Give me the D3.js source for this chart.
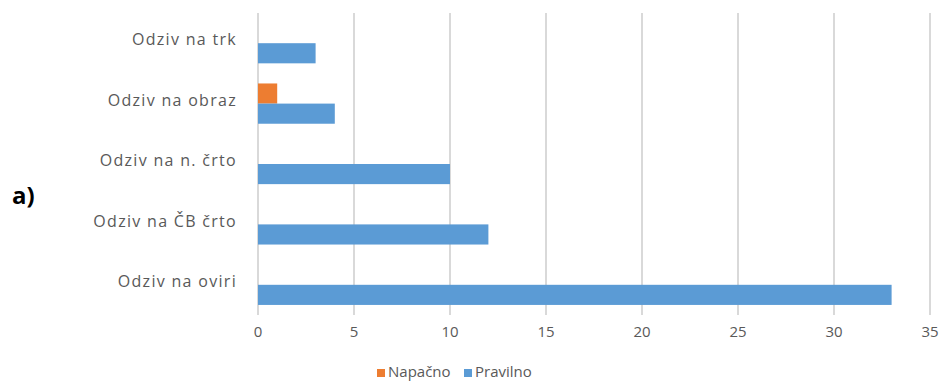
<!DOCTYPE html>
<html>
<head>
<meta charset="utf-8">
<script src="https://cdn.jsdelivr.net/npm/d3@7"></script>
<style>
  body { margin: 0; background: #fff; }
  text { font-family: "Open Sans", sans-serif; }
</style>
</head>
<body>
<svg id="chart" width="944" height="383"></svg>
<script>
const categories = ['Odziv na trk', 'Odziv na obraz', 'Odziv na n. črto', 'Odziv na ČB črto', 'Odziv na oviri'];
const seriesNames = ['Napačno', 'Pravilno'];
const napacno = [0, 1, 0, 0, 0];
const pravilno = [3, 4, 10, 12, 33];
const xTicks = [0, 5, 10, 15, 20, 25, 30, 35];
const colors = ['#ED7D31', '#5B9BD5'];

const LEFT = 258, RIGHT = 930, TOP = 13, BOTTOM = 315;
const svg = d3.select('#chart');

const x = d3.scaleLinear().domain([0, 35]).range([LEFT, RIGHT]);
const y = d3.scaleBand().domain(categories).range([TOP, BOTTOM]).paddingInner(0).paddingOuter(0);
const inner = d3.scaleBand().domain(seriesNames).range([0, y.bandwidth()]).paddingInner(0).paddingOuter(0.5);

// grid
svg.append('g')
  .selectAll('line')
  .data(xTicks)
  .enter()
  .append('line')
  .attr('x1', d => x(d)).attr('x2', d => x(d))
  .attr('y1', TOP).attr('y2', BOTTOM)
  .attr('stroke', '#d9d9d9')
  .attr('stroke-width', 2);

// bars
const rows = categories.map((c, i) => ({ cat: c, vals: [napacno[i], pravilno[i]] }));
const groups = svg.append('g')
  .selectAll('g')
  .data(rows)
  .enter()
  .append('g')
  .attr('transform', d => 'translate(0,' + y(d.cat) + ')');

groups.selectAll('rect')
  .data(d => d.vals.map((v, j) => ({ v: v, s: seriesNames[j], j: j })))
  .enter()
  .append('rect')
  .attr('x', x(0))
  .attr('y', d => inner(d.s))
  .attr('width', d => x(d.v) - x(0))
  .attr('height', inner.bandwidth())
  .attr('fill', d => colors[d.j]);

// category labels
svg.append('g')
  .selectAll('text')
  .data(categories)
  .enter()
  .append('text')
  .attr('x', 237)
  .attr('y', d => y(d) + y.bandwidth() / 2 - 2)
  .attr('text-anchor', 'end')
  .attr('dominant-baseline', 'middle')
  .attr('font-size', '16px')
  .attr('letter-spacing', '1.3px')
  .attr('fill', '#595959')
  .text(d => d);

// x tick labels
svg.append('g')
  .selectAll('text')
  .data(xTicks)
  .enter()
  .append('text')
  .attr('x', d => x(d))
  .attr('y', 333)
  .attr('text-anchor', 'middle')
  .attr('dominant-baseline', 'middle')
  .attr('font-size', '15px')
  .attr('fill', '#595959')
  .text(d => d);

// legend
const legendX = [377, 464];
const legend = svg.append('g')
  .selectAll('g')
  .data(seriesNames)
  .enter()
  .append('g')
  .attr('transform', (d, i) => 'translate(' + legendX[i] + ',373)');
legend.append('rect')
  .attr('x', 0).attr('y', -4)
  .attr('width', 8).attr('height', 8)
  .attr('fill', (d, i) => colors[i]);
legend.append('text')
  .attr('x', 11)
  .attr('y', 0)
  .attr('dominant-baseline', 'middle')
  .attr('font-size', '15px')
  .attr('fill', '#595959')
  .text(d => d);

svg.append('text')
  .attr('x', 12)
  .attr('y', 198)
  .attr('dominant-baseline', 'middle')
  .attr('font-size', '24px')
  .attr('font-weight', 'bold')
  .attr('font-family', 'Liberation Sans, Arial, sans-serif')
  .attr('fill', '#000')
  .text('a)');
</script>
</body>
</html>
